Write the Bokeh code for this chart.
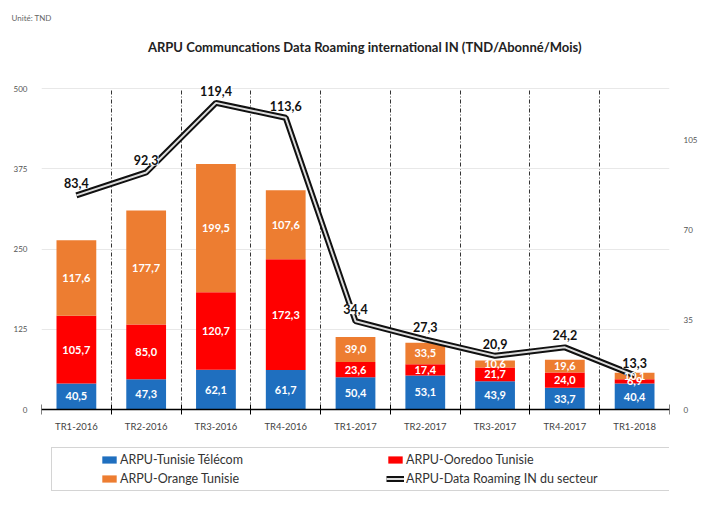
import numpy as np
from bokeh.plotting import figure
from bokeh.models import (ColumnDataSource, Range1d, LinearAxis, FixedTicker, LabelSet, Label,
                          Legend, LegendItem, Title)
from bokeh.core.properties import value
from bokeh.embed import file_html
from bokeh.resources import INLINE

categories = ["TR1-2016", "TR2-2016", "TR3-2016", "TR4-2016", "TR1-2017",
              "TR2-2017", "TR3-2017", "TR4-2017", "TR1-2018"]
tunisie_telecom = [40.5, 47.3, 62.1, 61.7, 50.4, 53.1, 43.9, 33.7, 40.4]
ooredoo = [105.7, 85.0, 120.7, 172.3, 23.6, 17.4, 21.7, 24.0, 6.9]
orange = [117.6, 177.7, 199.5, 107.6, 39.0, 33.5, 10.6, 19.6, 10.1]
secteur = [83.4, 92.3, 119.4, 113.6, 34.4, 27.3, 20.9, 24.2, 13.3]
left_ticks = [0, 125, 250, 375, 500]
right_ticks = [0, 35, 70, 105]
left_max, right_max = 500, 125

FONT = "Lato"
BLUE, RED, ORANGE = "#1F6FBF", "#FF0000", "#ED7D31"

# layout (pixels, figure coordinates)
FIG_W, FIG_H = 700, 496
FRAME_TOP = 22          # top of plotting frame
Y_MAX_PX, Y_ZERO_PX = 88, 409   # where the axis max and zero lie
px_per_unit = (Y_ZERO_PX - Y_MAX_PX) / left_max
y_top = left_max + (Y_MAX_PX - FRAME_TOP) / px_per_unit
y_bot = -(FIG_H - Y_ZERO_PX) / px_per_unit
scale_r = right_max / left_max

x = np.arange(len(categories))
tt = np.array(tunisie_telecom)
oo = np.array(ooredoo)
orv = np.array(orange)

src = ColumnDataSource(dict(x=x, tt=tt, oo=oo, orv=orv))

p = figure(width=FIG_W, height=FIG_H, output_backend="svg", toolbar_location=None,
           x_range=Range1d(-0.5, len(categories) - 0.5), y_range=Range1d(y_bot, y_top),
           min_border_left=41, min_border_right=18, min_border_top=FRAME_TOP, min_border_bottom=0,
           outline_line_color=None)
p.extra_y_ranges = {"right": Range1d(y_bot * scale_r, y_top * scale_r)}

p.title = Title(text="Unité: TND", align="left", text_font=FONT,
                text_font_size="8px", text_font_style="normal",
                text_color="#666666", offset=-30, standoff=0)

p.add_layout(Label(x=328, y=FIG_H - 46, x_units="screen", y_units="screen",
                   text="ARPU Communcations Data  Roaming international IN   (TND/Abonné/Mois)",
                   text_align="center", text_baseline="middle", text_font=FONT,
                   text_font_size="13px", text_font_style="bold", text_color="#222222"))

renderers = p.vbar_stack(["tt", "oo", "orv"], x="x", width=0.57, source=src,
                         color=[BLUE, RED, ORANGE], line_color=None)

# segment labels
bottoms = [np.zeros_like(tt), tt, tt + oo]
for vals, bot in zip([tt, oo, orv], bottoms):
    s = ColumnDataSource(dict(x=x, y=bot + vals / 2, t=[f"{v:.1f}".replace(".", ",") for v in vals]))
    p.add_layout(LabelSet(x="x", y="y", text="t", source=s, text_align="center",
                          text_baseline="middle", text_color="white", text_font=value(FONT),
                          text_font_size="11px", text_font_style="bold"))

lsrc = ColumnDataSource(dict(x=x, y=secteur, t=[f"{v:.1f}".replace(".", ",") for v in secteur]))
l1 = p.line("x", "y", source=lsrc, y_range_name="right", line_color="#111111", line_width=6)
l2 = p.line("x", "y", source=lsrc, y_range_name="right", line_color="#dddddd", line_width=2)
p.add_layout(LabelSet(x="x", y="y", text="t", source=lsrc, y_range_name="right",
                      text_align="center", text_baseline="middle", y_offset=12,
                      text_color="#111111", text_font=value(FONT), text_font_size="12.5px",
                      text_font_style="bold", background_fill_color="white"))

# axes
xa = p.xaxis[0]
xa.fixed_location = 0
xa.ticker = FixedTicker(ticks=list(x), minor_ticks=[i - 0.5 for i in range(len(categories) + 1)])
xa.major_label_overrides = {int(i): c for i, c in zip(x, categories)}
xa.major_tick_line_color = None
xa.minor_tick_in = 5
xa.minor_tick_out = 5
xa.minor_tick_line_color = "black"
xa.axis_line_color = "black"
xa.axis_line_width = 1.5
xa.major_label_text_font = FONT
xa.major_label_text_font_size = "9.5px"
xa.major_label_text_color = "#444444"
xa.major_label_standoff = 5

ya = p.yaxis[0]
ya.ticker = FixedTicker(ticks=left_ticks)
ya.axis_line_color = None
ya.major_tick_line_color = None
ya.minor_tick_line_color = None
ya.major_label_text_font = FONT
ya.major_label_text_font_size = "8px"
ya.major_label_text_color = "#555555"
ya.major_label_standoff = 8

ra = LinearAxis(y_range_name="right", ticker=FixedTicker(ticks=right_ticks),
                axis_line_color=None, major_tick_line_color=None, minor_tick_line_color=None,
                major_label_text_font=FONT, major_label_text_font_size="8px",
                major_label_text_color="#555555", major_label_standoff=8)
p.add_layout(ra, "right")

p.xgrid.ticker = FixedTicker(ticks=[i - 0.5 for i in range(len(categories) + 1)])
p.xgrid.cross_bounds = (0, left_max)
p.xgrid.grid_line_color = "#333333"
p.xgrid.grid_line_dash = "4 2 1 2"
p.xgrid.grid_line_width = 1
p.ygrid.ticker = FixedTicker(ticks=left_ticks[1:])
p.ygrid.grid_line_color = "#e8e8e8"

legend = Legend(items=[
    LegendItem(label="ARPU-Tunisie Télécom", renderers=[renderers[0]]),
    LegendItem(label="ARPU-Ooredoo Tunisie", renderers=[renderers[1]]),
    LegendItem(label="ARPU-Orange Tunisie", renderers=[renderers[2]]),
    LegendItem(label="ARPU-Data Roaming IN du secteur", renderers=[l1, l2]),
], orientation="horizontal", ncols=2, title=" ", title_location="left", title_standoff=29,
    label_text_font=FONT, label_text_font_size="12.5px", label_text_color="#333333",
    glyph_width=18, glyph_height=9, label_standoff=2, label_width=262, label_height=13,
    spacing=4, padding=4, border_line_color="#aaaaaa", location=(10, 5), margin=0)
p.add_layout(legend)

open("out.html", "w").write(file_html(p, INLINE))
